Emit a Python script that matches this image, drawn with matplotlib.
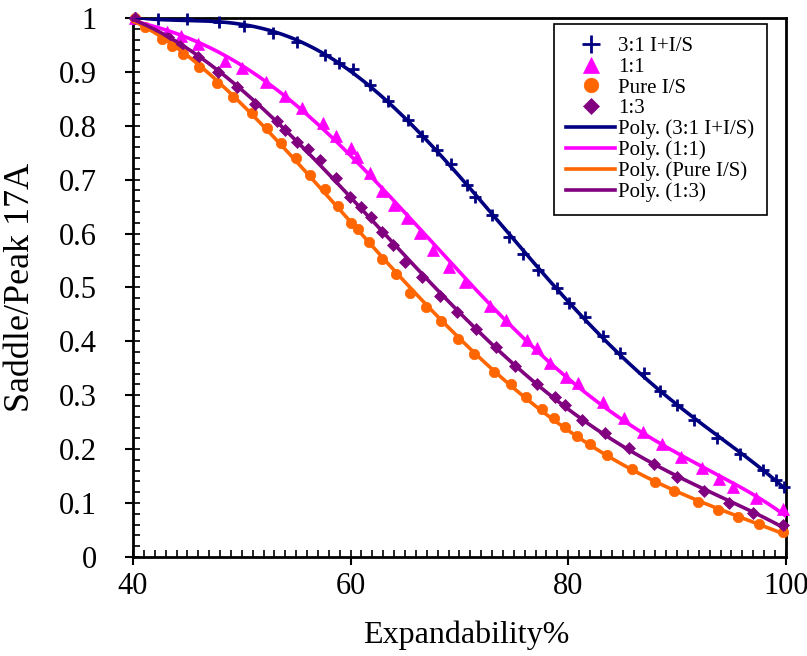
# saddle/peak ratio vs expandability, with poly trendlines
import numpy as np
import matplotlib
matplotlib.use('Agg')
import matplotlib.pyplot as plt
from matplotlib.ticker import MultipleLocator

# 3:1 I+I/S
x_31 = [40.2, 42.3, 45.0, 47.9, 50.2, 52.9, 55.1, 57.6, 58.9, 60.2, 61.8, 63.4, 65.3,
        66.6, 67.9, 69.2, 70.7, 71.4, 73.0, 74.6, 75.8, 77.2, 79.0, 80.1, 81.5, 83.2,
        84.8, 87.0, 88.4, 90.0, 91.6, 93.7, 95.8, 97.9, 99.1, 99.8]
y_31 = [1.0, 0.999, 0.998, 0.993, 0.985, 0.972, 0.955, 0.931, 0.917, 0.905, 0.876, 0.846, 0.811,
        0.781, 0.755, 0.729, 0.690, 0.668, 0.635, 0.594, 0.562, 0.532, 0.499, 0.471, 0.445, 0.410,
        0.378, 0.341, 0.308, 0.282, 0.254, 0.221, 0.191, 0.161, 0.143, 0.130]

# 1:1
x_11 = [40.2, 43.1, 44.4, 46.0, 48.5, 50.0, 52.2, 54.0, 55.5, 57.5, 58.7, 60.0, 60.6,
        61.8, 62.9, 64.0, 65.2, 66.4, 67.6, 69.0, 70.5, 72.8, 74.3, 76.2, 77.1, 78.3,
        79.8, 80.9, 83.2, 85.1, 86.9, 88.6, 90.4, 92.3, 93.9, 95.1, 97.3, 99.7]
y_11 = [1.0, 0.974, 0.967, 0.952, 0.920, 0.907, 0.881, 0.855, 0.833, 0.805, 0.781, 0.759, 0.742,
        0.712, 0.679, 0.653, 0.629, 0.601, 0.570, 0.538, 0.510, 0.466, 0.440, 0.403, 0.388, 0.360,
        0.334, 0.323, 0.288, 0.258, 0.232, 0.210, 0.186, 0.165, 0.145, 0.130, 0.109, 0.089]

# Pure I/S
x_pure = [40.2, 41.1, 42.7, 43.6, 44.6, 46.1, 47.7, 49.2, 50.9, 52.3, 53.6, 55.0, 56.3,
          57.6, 58.8, 60.0, 60.7, 61.7, 62.9, 64.2, 65.5, 66.9, 68.3, 69.9, 71.3, 73.2,
          74.7, 76.1, 77.6, 78.7, 79.7, 80.8, 82.0, 83.6, 85.9, 88.0, 89.7, 91.9, 93.8,
          95.6, 97.5, 99.7]
y_pure = [1.0, 0.983, 0.961, 0.948, 0.933, 0.909, 0.879, 0.853, 0.824, 0.796, 0.768, 0.740, 0.709,
          0.682, 0.651, 0.620, 0.609, 0.584, 0.553, 0.525, 0.490, 0.464, 0.438, 0.404, 0.377, 0.343,
          0.321, 0.297, 0.274, 0.257, 0.241, 0.224, 0.210, 0.189, 0.163, 0.139, 0.122, 0.102, 0.087,
          0.074, 0.061, 0.046]

# 1:3
x_13 = [40.2, 43.2, 44.3, 46.0, 47.8, 49.6, 51.2, 53.2, 54.0, 55.1, 56.1, 57.2, 58.7,
        59.9, 61.0, 61.9, 62.9, 63.9, 65.0, 66.6, 68.2, 69.8, 71.5, 73.4, 75.1, 77.1,
        78.8, 79.7, 81.3, 83.4, 85.6, 87.9, 90.0, 92.5, 94.8, 97.0, 99.7]
y_13 = [1.0, 0.965, 0.948, 0.928, 0.900, 0.872, 0.840, 0.809, 0.792, 0.770, 0.757, 0.737, 0.703,
        0.668, 0.649, 0.631, 0.603, 0.579, 0.547, 0.519, 0.484, 0.455, 0.423, 0.390, 0.354, 0.321,
        0.297, 0.282, 0.254, 0.230, 0.202, 0.173, 0.148, 0.122, 0.100, 0.082, 0.059]

labels = ['3:1 I+I/S', '1:1', 'Pure I/S', '1:3']
colors = ['#000080', '#FF00FF', '#FF6600', '#800080']
markers = ['+', '^', 'o', 'D']
msizes = [9, 8, 7.5, 6]

yticks = [0, 0.1, 0.2, 0.3, 0.4, 0.5, 0.6, 0.7, 0.8, 0.9, 1]
ytick_labels = ['0', '0.1', '0.2', '0.3', '0.4', '0.5', '0.6', '0.7', '0.8', '0.9', '1']
xticks = [40, 60, 80, 100]

plt.rcParams['font.family'] = ['Liberation Serif', 'DejaVu Serif']

fig = plt.figure(figsize=(8.07, 6.56), dpi=100)
ax = fig.add_axes([0.1648, 0.151, 0.809, 0.8216])

series = [(x_31, y_31), (x_11, y_11), (x_pure, y_pure), (x_13, y_13)]
pts = []
fits = []
xs = np.linspace(40, 100, 400)
for (x, y), lab, c, m, ms in zip(series, labels, colors, markers, msizes):
    p, = ax.plot(x, y, ls='none', marker=m, color=c, markersize=ms,
                 markeredgewidth=2 if m == '+' else 0.5, clip_on=False, zorder=3,
                 label=lab)
    pts.append(p)
    # excel style polynomial trendline
    poly = np.polynomial.Polynomial.fit(x, y, 5)
    l, = ax.plot(xs, poly(xs), color=c, lw=2.6, zorder=4, label='Poly. (%s)' % lab)
    fits.append(l)

ax.set_xlim(40, 100)
ax.set_ylim(0, 1)
ax.set_xticks(xticks)
ax.set_yticks(yticks)
ax.set_yticklabels(ytick_labels)
ax.xaxis.set_minor_locator(MultipleLocator(1))
ax.yaxis.set_minor_locator(MultipleLocator(0.02))
ax.xaxis.remove_overlapping_locs = False
ax.yaxis.remove_overlapping_locs = False
ax.tick_params(which='major', direction='out', length=6, width=1.5, labelsize=22)
ax.tick_params(axis='y', which='major', pad=20)
ax.tick_params(axis='x', which='major', pad=5)
ax.tick_params(which='minor', direction='in', length=5, width=1.2)
for s in ax.spines.values():
    s.set_linewidth(2)
    s.set_color('black')

ax.set_xlabel('Expandability%', fontsize=23)
ax.set_ylabel('Saddle/Peak 17A', fontsize=26)
ax.xaxis.set_label_coords(0.511, -0.118)
ax.yaxis.set_label_coords(-0.147, 0.5)

leg = ax.legend(pts + fits, [h.get_label() for h in pts + fits],
                loc='upper right', bbox_to_anchor=(0.971, 0.989), borderaxespad=0,
                fontsize=15, fancybox=False, framealpha=1, edgecolor='black',
                handlelength=2.35, handletextpad=0.15, labelspacing=0.06,
                markerscale=1.4, borderpad=0.6)
leg.get_frame().set_linewidth(1.2)

fig.savefig('out.png', dpi=100)
